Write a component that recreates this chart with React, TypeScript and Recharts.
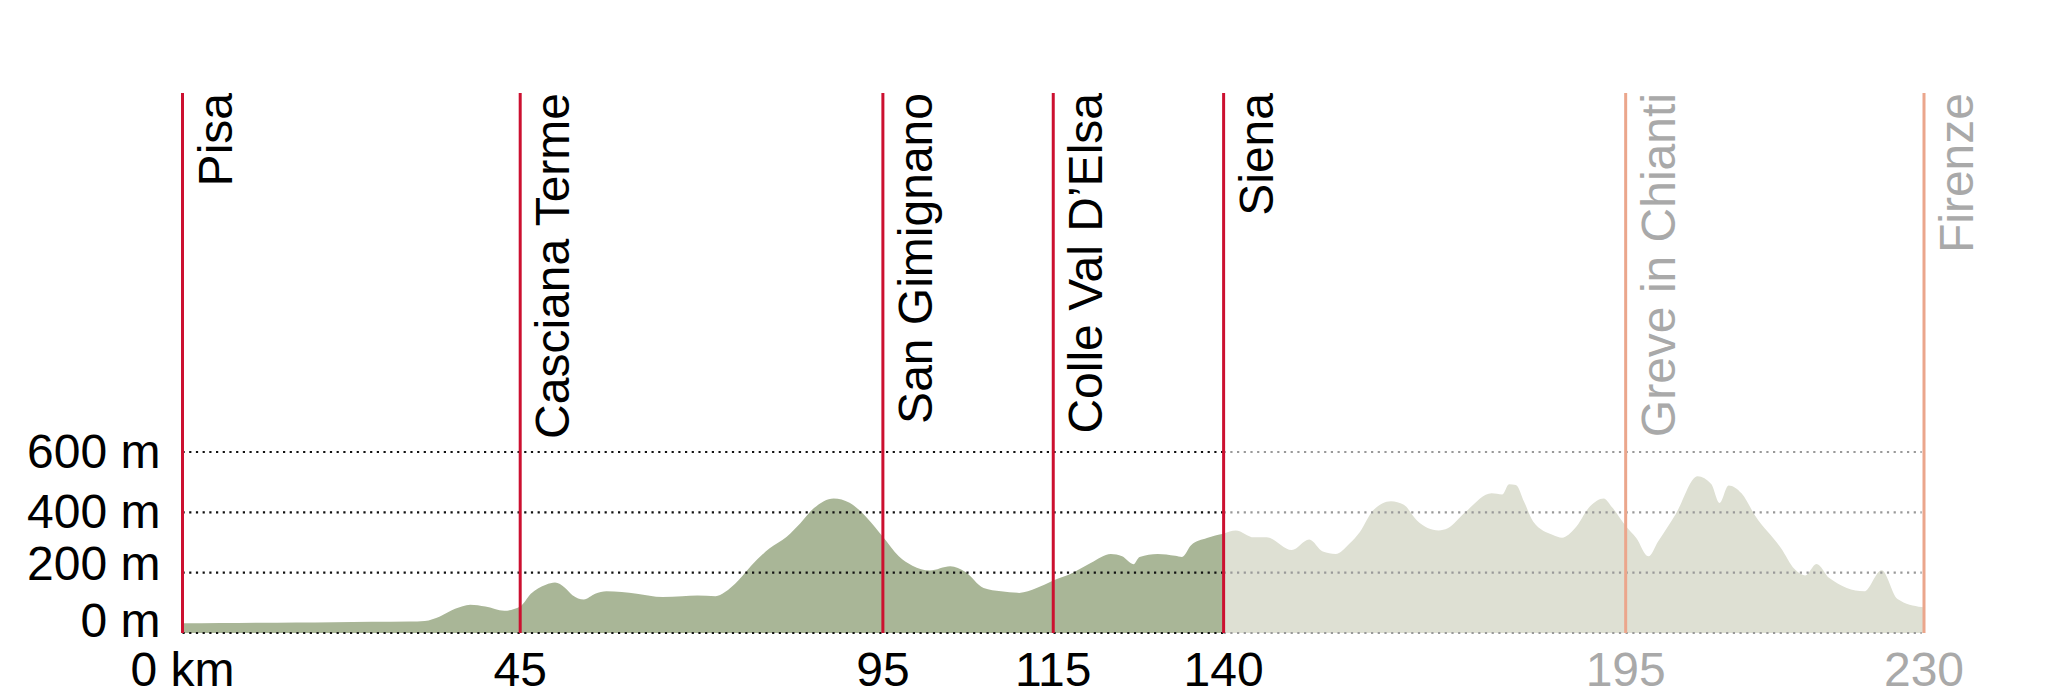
import React from 'react';
import { AreaChart, Area, XAxis, YAxis, ReferenceLine } from 'recharts';

// elevation profile (km along the route, metres)
const distanceKm = [
  0, 5, 10, 15, 20, 25, 30, 32, 34, 36, 38, 40, 42.5, 44.6, 46, 48, 49.2, 50.5, 51.5, 53,
  54.5, 56, 60, 63.4, 66, 68, 70.4, 71.6, 73.4, 75.1, 77.5, 79.8, 81.6, 83.4, 86, 88.1, 90.5,
  92.5, 94.6, 96.4, 98.7, 101.4, 103.4, 105.8, 108.1, 110.5, 112.8, 115, 117.6, 120, 122.6,
  124.1, 125.6, 126.4, 128.8, 131.1, 132, 133.2, 135.3, 137.5, 139.1, 141.5, 143.2, 146.5,
  148.8, 150.6, 152.3, 154.1, 155.5, 157.2, 159.6, 161.3, 163, 165.9, 167.1, 169.4, 172.9,
  174.3, 175.2, 176.1, 177.2, 178.4, 181, 182.2, 183.9, 185.9, 187.7, 188.8, 190.6, 192,
  193.6, 194.9, 197.2, 200.1, 201.9, 203, 204.2, 205.9, 207.7, 211.1, 212.9, 214.3, 215.8,
  217.5, 222.1, 224.4, 226.5, 229.7, 230,
];
const elevationM = [
  32, 33, 34, 35, 36, 37, 38, 40, 55, 80, 94, 88, 74, 88, 130, 160, 167, 150, 125, 111,
  130, 138, 130, 119, 122, 124, 122, 135, 174, 223, 280, 319, 364, 414, 446, 432, 379,
  319, 254, 223, 207, 221, 202, 149, 138, 133, 149, 174, 200, 233, 262,
  254, 228, 252, 262, 256, 252, 291, 315, 329, 340, 317, 317, 275,
  310, 270, 262, 296, 335, 405, 437, 425, 374, 340, 347, 400, 463,
  459, 493, 491, 434, 369, 325, 316, 347, 420, 446, 417, 355, 315,
  254, 304, 394, 520, 494, 431, 489, 463, 389, 282, 212, 191, 229,
  182, 138, 208, 113, 86, 85,
];

// stages
const townNames = ['Pisa', 'Casciana Terme', 'San Gimignano', 'Colle Val D\u2019Elsa', 'Siena', 'Greve in Chianti', 'Firenze'];
const townKm = [0, 44.6, 92.5, 115, 137.5, 190.6, 230];
const townTickLabels = ['0 km', '45', '95', '115', '140', '195', '230'];
const townDone = [true, true, true, true, true, false, false];

const elevationTicks = [0, 200, 400, 600];
const elevationTickLabels = ['0 m', '200 m', '400 m', '600 m'];

const SPLIT_KM = 137.5;
const data = distanceKm.map((d, i) => ({
  km: d,
  done: d <= SPLIT_KM ? elevationM[i] : null,
  todo: d >= SPLIT_KM ? elevationM[i] : null,
}));

const FONT = '"Liberation Sans", Arial, Helvetica, sans-serif';
const FONT_SIZE = 48;
const RED = '#cc1030';
const SALMON = '#eba68c';
const GREY_TEXT = '#a9a9a9';

// hand-drawn labels sit a bit differently on each gridline
const yLabelBaseline: Record<number, number> = { 0: 4, 200: 7, 400: 16, 600: 16 };

const YTick = (props: any) => {
  const { x, y, payload } = props;
  const idx = elevationTicks.indexOf(payload.value);
  return (
    <text x={x} y={y + (yLabelBaseline[payload.value] ?? 12)} textAnchor="end" fontSize={FONT_SIZE} fontFamily={FONT} fill="#000">
      {elevationTickLabels[idx]}
    </text>
  );
};

const XTick = (props: any) => {
  const { x, y, payload } = props;
  const idx = townKm.indexOf(payload.value);
  return (
    <text x={x} y={y + 53} textAnchor="middle" fontSize={FONT_SIZE} fontFamily={FONT} fill={townDone[idx] ? '#000' : GREY_TEXT}>
      {townTickLabels[idx]}
    </text>
  );
};

const townLabel = (name: string, done: boolean) => (props: any) => {
  const vb = props.viewBox || {};
  const tx = vb.x + 49;
  const ty = vb.y;
  return (
    <text
      x={tx}
      y={ty}
      transform={`rotate(-90, ${tx}, ${ty})`}
      textAnchor="end"
      fontSize={FONT_SIZE}
      fontFamily={FONT}
      fill={done ? '#000' : GREY_TEXT}
    >
      {name}
    </text>
  );
};

export default function App() {
  return (
    <div style={{ position: 'absolute', left: 0, top: 0, width: 2048, height: 699, background: '#fff', fontFamily: FONT }}>
      <AreaChart width={2048} height={699} data={data} margin={{ top: 93, right: 124, bottom: 36, left: 82.5 }}>
        <XAxis
          dataKey="km"
          type="number"
          domain={[0, 230]}
          ticks={townKm}
          interval={0}
          axisLine={false}
          tickLine={false}
          tickSize={0}
          tickMargin={0}
          height={30}
          tick={<XTick />}
        />
        <YAxis
          type="number"
          domain={[0, 1790]}
          ticks={elevationTicks}
          interval={0}
          axisLine={false}
          tickLine={false}
          tickSize={0}
          tickMargin={22}
          width={100}
          tick={<YTick />}
        />
        <Area
          type="monotone"
          dataKey="done"
          stroke="none"
          fill="#a9b697"
          fillOpacity={1}
          dot={false}
          activeDot={false}
          isAnimationActive={false}
        />
        <Area
          type="monotone"
          dataKey="todo"
          stroke="none"
          fill="#dee0d3"
          fillOpacity={1}
          dot={false}
          activeDot={false}
          isAnimationActive={false}
        />
        {elevationTicks.map((v) => (
          <ReferenceLine
            key={`gd-${v}`}
            segment={[{ x: 0, y: v }, { x: SPLIT_KM, y: v }]}
            stroke="#111"
            strokeWidth={2.2}
            strokeDasharray="2.2 4.5"
          />
        ))}
        {elevationTicks.map((v) => (
          <ReferenceLine
            key={`gl-${v}`}
            segment={[{ x: SPLIT_KM, y: v }, { x: 229.7, y: v }]}
            stroke="#999"
            strokeWidth={2.2}
            strokeDasharray="2.2 4.5"
          />
        ))}
        {townNames.map((name, i) => (
          <ReferenceLine
            key={name}
            x={townKm[i]}
            stroke={townDone[i] ? RED : SALMON}
            strokeWidth={3}
            label={townLabel(name, townDone[i])}
          />
        ))}
      </AreaChart>
    </div>
  );
}
